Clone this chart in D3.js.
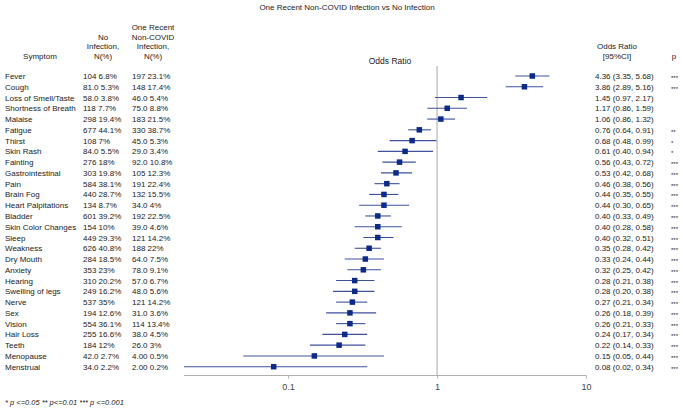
<!DOCTYPE html>
<html>
<head>
<meta charset="utf-8">
<script src="https://cdn.jsdelivr.net/npm/d3@7"></script>
<style>
  html, body { margin: 0; padding: 0; background: #fff; }
  svg { display: block; font-family: "Liberation Sans", Arial, Helvetica, sans-serif; }
</style>
</head>
<body>
<svg id="chart" width="681" height="417"></svg>
<script>
const symptoms = ["Fever","Cough","Loss of Smell/Taste","Shortness of Breath","Malaise","Fatigue","Thirst","Skin Rash","Fainting","Gastrointestinal","Pain","Brain Fog","Heart Palpitations","Bladder","Skin Color Changes","Sleep","Weakness","Dry Mouth","Anxiety","Hearing","Swelling of legs","Nerve","Sex","Vision","Hair Loss","Teeth","Menopause","Menstrual"];
const noInfN   = [104,81,58,118,298,677,108,84,276,303,584,440,134,601,154,449,626,284,353,310,249,537,194,554,255,184,42,34];
const noInfPct = [6.8,5.3,3.8,7.7,19.4,44.1,7,5.5,18,19.8,38.1,28.7,8.7,39.2,10,29.3,40.8,18.5,23,20.2,16.2,35,12.6,36.1,16.6,12,2.7,2.2];
const oneInfN   = [197,148,46,75,183,330,45,29,92,105,191,132,34,192,39,121,188,64,78,57,48,121,31,114,38,26,4,2];
const oneInfPct = [23.1,17.4,5.4,8.8,21.5,38.7,5.3,3.4,10.8,12.3,22.4,15.5,4,22.5,4.6,14.2,22,7.5,9.1,6.7,5.6,14.2,3.6,13.4,4.5,3,0.5,0.2];
const oddsRatio = [4.36,3.86,1.45,1.17,1.06,0.76,0.68,0.61,0.56,0.53,0.46,0.44,0.44,0.40,0.40,0.40,0.35,0.33,0.32,0.28,0.28,0.27,0.26,0.26,0.24,0.22,0.15,0.08];
const ciLow  = [3.35,2.89,0.97,0.86,0.86,0.64,0.48,0.40,0.43,0.42,0.38,0.35,0.30,0.33,0.28,0.32,0.28,0.24,0.25,0.21,0.20,0.21,0.18,0.21,0.17,0.14,0.05,0.02];
const ciHigh = [5.68,5.16,2.17,1.59,1.32,0.91,0.99,0.94,0.72,0.68,0.56,0.55,0.65,0.49,0.58,0.51,0.42,0.44,0.42,0.38,0.38,0.34,0.39,0.33,0.34,0.33,0.44,0.34];
const pStars = ["***","***","","","","**","*","*","***","***","***","***","***","***","***","***","***","***","***","***","***","***","***","***","***","***","***","***"];
const xTicks = [0.1, 1, 10];
const xDomain = [0.02, 10];

const svg = d3.select("#chart");
const textColor = "#222";

const x = d3.scaleLog().domain(xDomain).range([184, 586]);
const y = d3.scalePoint().domain(symptoms).range([76, 366.7]);

const rows = symptoms.map((s, i) => ({
  s, i, n0: noInfN[i], p0: noInfPct[i], n1: oneInfN[i], p1: oneInfPct[i],
  or: oddsRatio[i], lo: ciLow[i], hi: ciHigh[i], star: pStars[i]
}));

const f3 = d3.format(".3r");
const f2 = d3.format(".2f");

// Title
svg.append("text").attr("x", 347).attr("y", 10).attr("text-anchor", "middle")
  .attr("font-size", 8).attr("fill", textColor)
  .text("One Recent Non-COVID Infection vs No Infection");

// Headers
function header(lines, cx, bottomY, size) {
  const t = svg.append("text").attr("text-anchor", "middle").attr("font-size", size || 8).attr("fill", textColor);
  lines.forEach((l, k) => {
    t.append("tspan").attr("x", cx).attr("y", bottomY - (lines.length - 1 - k) * 9.7).text(l);
  });
}
header(["Symptom"], 40, 59);
header(["No", "Infection,", "N(%)"], 103, 59);
header(["One Recent", "Non-COVID", "Infection,", "N(%)"], 153, 59);
header(["Odds Ratio"], 390, 64, 8.5);
header(["Odds Ratio", "[95%CI]"], 617, 59);
header(["p"], 674, 59);

// Table text
const rowG = svg.append("g").attr("font-size", 8).attr("fill", textColor);
rowG.selectAll("text.sym").data(rows).join("text").attr("class", "sym")
  .attr("x", 5).attr("y", d => y(d.s) + 3).text(d => d.s);
rowG.selectAll("text.c1").data(rows).join("text").attr("class", "c1")
  .attr("x", 83).attr("y", d => y(d.s) + 3).text(d => `${f3(d.n0)} ${d.p0}%`);
rowG.selectAll("text.c2").data(rows).join("text").attr("class", "c2")
  .attr("x", 132).attr("y", d => y(d.s) + 3).text(d => `${f3(d.n1)} ${d.p1}%`);
rowG.selectAll("text.ci").data(rows).join("text").attr("class", "ci")
  .attr("x", 595).attr("y", d => y(d.s) + 3).text(d => `${f2(d.or)} (${f2(d.lo)}, ${f2(d.hi)})`);
rowG.selectAll("text.star").data(rows).join("text").attr("class", "star")
  .attr("x", 671).attr("y", d => y(d.s) + 4).attr("font-size", 6).text(d => d.star);

// Reference line at 1
svg.append("line").attr("x1", x(1)).attr("x2", x(1)).attr("y1", 66).attr("y2", 376)
  .attr("stroke", "#a8a8a8").attr("stroke-width", 1);

// X axis
const axisG = svg.append("g").attr("transform", "translate(0,375.5)")
  .call(d3.axisBottom(x).tickValues(xTicks).tickSize(3).tickFormat(d3.format("~g")));
axisG.select(".domain").attr("stroke", "#b0b0b0").attr("d", `M${x(xDomain[0])},0H${x(xDomain[1])}`);
axisG.selectAll(".tick line").attr("stroke", "#b0b0b0");
axisG.selectAll(".tick text").attr("font-size", 9).attr("fill", "#444")
  .attr("font-family", "'Liberation Sans', Arial, sans-serif").attr("dy", "0.9em");

// CI lines
svg.append("g").selectAll("line").data(rows).join("line")
  .attr("x1", d => x(d.lo)).attr("x2", d => x(d.hi))
  .attr("y1", d => y(d.s)).attr("y2", d => y(d.s))
  .attr("stroke", "#3f519c").attr("stroke-width", 1.1);

// Markers
const ms = 5.5;
svg.append("g").selectAll("rect").data(rows).join("rect")
  .attr("x", d => x(d.or) - ms / 2).attr("y", d => y(d.s) - ms / 2)
  .attr("width", ms).attr("height", ms).attr("fill", "#0b2a8e");

// Footnote
svg.append("text").attr("x", 5).attr("y", 405).attr("font-size", 7.5)
  .attr("font-style", "italic").attr("fill", textColor)
  .text("* p <=0.05 ** p<=0.01 *** p <=0.001");
</script>
</body>
</html>
